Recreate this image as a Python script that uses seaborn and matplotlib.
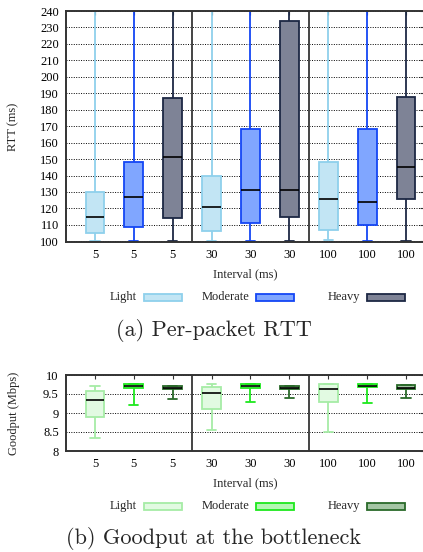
import matplotlib.pyplot as plt
import numpy as np
import pandas as pd
import seaborn as sns
from matplotlib.patches import Rectangle

# Five-number summaries: [min, q1, median, q3, max]
positions = list(range(9))
tick_labels = ["5", "5", "5", "30", "30", "30", "100", "100", "100"]
levels = ["Light", "Moderate", "Heavy"]

rtt_light = [[100, 105, 115, 130, 250], [100, 106, 121, 140, 250], [101, 107, 126, 148, 250]]
rtt_moderate = [[100, 109, 127, 148, 250], [100, 111, 131, 168, 250], [100, 110, 124, 168, 250]]
rtt_heavy = [[100, 114, 151, 187, 250], [100, 115, 131, 234, 250], [100, 126, 145, 188, 250]]

gp_light = [[8.34, 8.89, 9.34, 9.57, 9.72], [8.56, 9.11, 9.52, 9.68, 9.75], [8.51, 9.28, 9.63, 9.75, 9.76]]
gp_moderate = [[9.21, 9.66, 9.71, 9.75, 9.76], [9.28, 9.67, 9.72, 9.75, 9.75], [9.25, 9.68, 9.72, 9.75, 9.75]]
gp_heavy = [[9.37, 9.63, 9.67, 9.70, 9.70], [9.40, 9.63, 9.67, 9.70, 9.70], [9.40, 9.63, 9.66, 9.73, 9.73]]

rtt_faces = ["#c2e5f4", "#80a6ff", "#7e8396"]
rtt_edges = ["#8fd0ec", "#1446f5", "#1c2844"]
gp_faces = ["#e2fae2", "#b4f7b4", "#a4c6a4"]
gp_edges = ["#a6eca6", "#1ee81e", "#2a6a2a"]


def to_frame(series):
    rows = []
    for level, boxes in zip(levels, series):
        for grp, summary in enumerate(boxes):
            pos = grp * 3 + levels.index(level)
            for v in summary:
                rows.append({"pos": pos, "level": level, "value": v})
    return pd.DataFrame(rows)


sns.set_style("white")
plt.rcParams["font.family"] = ["Liberation Serif", "DejaVu Serif"]

W, H = 423, 552
FS = 9
fig = plt.figure(figsize=(W / 100, H / 100), dpi=100)


def draw_panel(ax, df, faces, edges, ylim, yticks, yticklabels, ylabel):
    for level, fc, ec in zip(levels, faces, edges):
        sns.boxplot(
            data=df[df["level"] == level], x="pos", y="value", order=positions,
            color=fc, linecolor=ec, saturation=1, width=0.48, whis=(0, 100),
            linewidth=1.3, medianprops=dict(color="black", linewidth=1.2),
            ax=ax,
        )
    ax.set_xlim(-0.75, 8.46)
    ax.set_ylim(*ylim)
    ax.set_yticks(yticks)
    ax.set_yticklabels(yticklabels)
    ax.set_xticks(positions)
    ax.set_xticklabels(tick_labels)
    ax.yaxis.grid(True, color="black", linestyle=(0, (1, 1.5)), linewidth=0.7)
    ax.set_axisbelow(True)
    for x in (2.5, 5.5):
        ax.axvline(x, color="#444444", linewidth=1.4)
    for s in ax.spines.values():
        s.set_color("#333333")
        s.set_linewidth(1.4)
    ax.tick_params(direction="in", top=True, right=True, length=3,
                   labelsize=FS, colors="#333333", labelcolor="black", pad=5)
    ax.set_xlabel("Interval (ms)", fontsize=FS, labelpad=5)
    ax.set_ylabel(ylabel, fontsize=FS)
    ax.yaxis.set_label_coords(-46 / (424 - 65.7), 0.5)


def draw_legend(yc, faces, edges):
    for name, fc, ec, x0 in zip(levels, faces, edges, (144, 256, 367)):
        fig.add_artist(Rectangle((x0 / W, 1 - (yc + 3.5) / H), 38 / W, 7 / H,
                                 facecolor=fc, edgecolor=ec, linewidth=1.3,
                                 transform=fig.transFigure))
        fig.text((x0 - 7) / W, 1 - yc / H, name, ha="right", va="center", fontsize=FS)


# (a) Per-packet RTT
ax1 = fig.add_axes([65.7 / W, 1 - 242 / H, (424 - 65.7) / W, 231 / H])
draw_panel(ax1, to_frame([rtt_light, rtt_moderate, rtt_heavy]), rtt_faces, rtt_edges,
           (99.6, 240), list(range(100, 241, 10)), [str(v) for v in range(100, 241, 10)],
           "RTT (ms)")
draw_legend(297, rtt_faces, rtt_edges)
fig.text(214 / W, 1 - 330 / H, "(a) Per-packet RTT", ha="center", va="center",
         fontsize=16, family="cmr10")

# (b) Goodput at the bottleneck
ax2 = fig.add_axes([65.7 / W, 1 - 451 / H, (424 - 65.7) / W, 76 / H])
draw_panel(ax2, to_frame([gp_light, gp_moderate, gp_heavy]), gp_faces, gp_edges,
           (8, 10), [8, 8.5, 9, 9.5, 10], ["8", "8.5", "9", "9.5", "10"],
           "Goodput (Mbps)")
draw_legend(506, gp_faces, gp_edges)
fig.text(214 / W, 1 - 538 / H, "(b) Goodput at the bottleneck", ha="center", va="center",
         fontsize=16, family="cmr10")

fig.savefig("out.png", dpi=100)
